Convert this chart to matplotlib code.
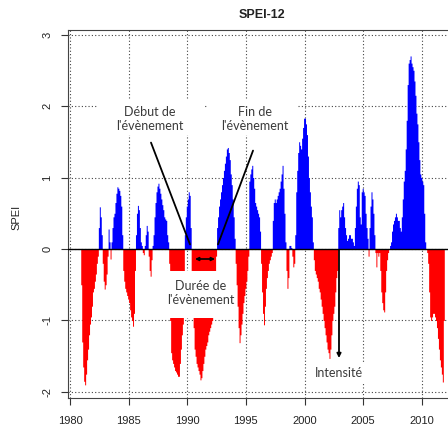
import numpy as np
import matplotlib
matplotlib.use("Agg")
import matplotlib.pyplot as plt
from matplotlib.patches import Rectangle

plt.rcParams['axes.unicode_minus'] = False

nan = np.nan
# Monthly SPEI-12 values (Jan..Dec)
spei_1980s = [
    [nan, nan, nan, nan, nan, nan, nan, nan, nan, nan, nan, -0.5],
    [-1.3, -1.65, -1.85, -1.9, -1.75, -1.55, -1.4, -1.2, -1.05, -0.95, -0.8, -0.6],
    [-0.55, -0.45, -0.35, -0.2, -0.1, 0.3, 0.59, 0.45, 0.2, -0.2, -0.45, -0.56],
    [-0.5, -0.35, -0.1, 0.28, 0.1, -0.14, 0.1, 0.3, 0.45, 0.5, 0.65, 0.78],
    [0.87, 0.85, 0.82, 0.75, 0.6, 0.2, -0.3, -0.45, -0.55, -0.6, -0.65, -0.7],
    [-0.75, -0.85, -0.95, -1.0, -1.08, -0.9, -0.3, 0.2, 0.5, 0.61, 0.55, 0.3],
    [0.1, 0.05, -0.05, -0.08, 0.05, 0.2, 0.33, 0.25, -0.1, -0.3, -0.38, -0.15],
    [0.05, 0.2, 0.45, 0.65, 0.8, 0.88, 0.92, 0.85, 0.78, 0.7, 0.62, 0.55],
    [0.45, 0.42, 0.4, 0.2, 0.1, -0.2, -1.0, -1.45, -1.55, -1.6, -1.65, -1.7],
    [-1.72, -1.75, -1.78, -1.78, -1.6, -1.4, -1.2, -1.05, -0.5, 0.2, 0.45, 0.6],
]
spei_1990s = [
    [0.7, 0.8, 0.75, 0.3, -0.3, -0.7, -1.1, -1.4, -1.5, -1.6, -1.65, -1.7],
    [-1.75, -1.83, -1.8, -1.7, -1.6, -1.5, -1.4, -1.35, -1.3, -1.2, -1.15, -1.1],
    [-1.05, -1.0, -0.95, -0.8, -0.4, -0.1, 0.3, 0.45, 0.6, 0.7, 0.8, 0.9],
    [1.0, 1.1, 1.2, 1.3, 1.4, 1.42, 1.35, 1.25, 1.05, 0.9, 0.7, 0.45],
    [0.15, -0.2, -0.5, -0.8, -1.1, -1.31, -1.2, -1.05, -0.9, -0.75, -0.65, -0.55],
    [-0.45, -0.3, -0.1, 0.95, 1.05, 1.12, 1.17, 1.0, 0.85, 0.65, 0.6, 0.55],
    [0.5, 0.45, 0.25, -0.2, -0.6, -0.9, -1.06, -0.8, -0.55, -0.4, -0.3, -0.2],
    [-0.15, -0.1, -0.05, 0.4, 0.65, 0.7, 0.65, 0.7, 0.75, 0.8, 0.85, 0.95],
    [1.05, 1.17, 0.85, 0.5, 0.1, -0.3, -0.55, -0.4, 0.05, 0.05, 0.02, -0.1],
    [-0.25, -0.2, 0.2, 0.8, 1.1, 1.35, 1.5, 1.45, 1.4, 1.55, 1.7, 1.83],
]
spei_2000s = [
    [1.83, 1.75, 1.6, 1.3, 1.0, 0.8, 0.6, 0.45, 0.1, -0.15, -0.3, -0.35],
    [-0.4, -0.45, -0.55, -0.6, -0.7, -0.8, -0.9, -1.0, -1.1, -1.2, -1.3, -1.4],
    [-1.45, -1.53, -1.4, -1.2, -1.0, -0.9, -0.8, -0.6, -0.4, -0.3, 0.3, 0.55],
    [0.45, 0.55, 0.6, 0.65, 0.45, 0.3, 0.2, 0.12, 0.15, 0.2, 0.2, 0.15],
    [0.15, 0.1, 0.05, 0.3, 0.6, 0.85, 0.95, 0.9, 0.45, 0.35, 0.8, 0.85],
    [0.8, 0.75, 0.5, 0.3, 0.15, -0.1, 0.3, 0.6, 0.8, 0.7, 0.5, 0.2],
    [-0.05, -0.25, -0.05, -0.1, -0.05, -0.3, -0.6, -0.75, -0.85, -0.88, -0.6, -0.3],
    [-0.15, -0.05, 0.0, 0.05, 0.1, 0.25, 0.35, 0.4, 0.45, 0.5, 0.45, 0.4],
    [0.4, 0.3, 0.25, 0.45, 0.7, 0.95, 1.1, 1.4, 1.8, 2.3, 2.6, 2.65],
    [2.7, 2.6, 2.55, 2.5, 2.35, 2.15, 1.9, 1.75, 1.5, 1.25, 1.05, 1.0],
]
spei_2010s = [
    [0.95, 0.9, 0.5, 0.1, 0.0, -0.05, -0.2, -0.6, -0.95, -1.0, -0.95, -0.9],
    [-0.9, -0.95, -1.0, -1.1, -1.25, -1.4, -1.55, -1.65, -1.75, -1.86, -1.0, nan],
]
start_year = 1980
x_ticks = [1980, 1985, 1990, 1995, 2000, 2005, 2010]
y_ticks = [-2, -1, 0, 1, 2, 3]

values = np.array(spei_1980s + spei_1990s + spei_2000s + spei_2010s, dtype=float).ravel()
t = start_year + np.arange(values.size) / 12.0
t_edge = np.append(t, t[-1] + 1 / 12.0)
v_edge = np.append(values, values[-1])
v_edge = np.nan_to_num(v_edge)

W, H = 448, 428
fig = plt.figure(figsize=(W / 100, H / 100), dpi=100)
ax = fig.add_axes([68 / W, (H - 398) / H, (457 - 68) / W, (398 - 30) / H])
ax.set_xlim(1979.83, 2013.0)
ax.set_ylim(-2.084, 3.063)

pos = np.where(v_edge > 0, v_edge, 0)
neg = np.where(v_edge < 0, v_edge, 0)
ax.fill_between(t_edge, 0, pos, step='post', color='#0000FF', linewidth=0, zorder=2)
ax.fill_between(t_edge, 0, neg, step='post', color='#FF0000', linewidth=0, zorder=2)

for xv in x_ticks:
    ax.axvline(xv, color='#444444', lw=0.8, ls=(0, (1, 2)), zorder=1)
for yv in y_ticks:
    ax.axhline(yv, color='#444444', lw=0.8, ls=(0, (1, 2)), zorder=1)
ax.axhline(0, color='black', lw=1.0, zorder=4)

ax.set_xticks(x_ticks)
ax.set_yticks(y_ticks)
ax.tick_params(axis='both', direction='out', length=5, width=0.8, color='#333333',
               labelsize=8, labelcolor='#222222')
ax.tick_params(axis='x', pad=8)
ax.tick_params(axis='y', pad=10)
for lbl in ax.get_yticklabels():
    lbl.set_rotation(90)
    lbl.set_va('center')
    lbl.set_ha('center')
for lbl in ax.get_xticklabels() + ax.get_yticklabels():
    lbl.set_family('Liberation Sans')
for s in ['left', 'bottom', 'top']:
    ax.spines[s].set_color('#444444')
    ax.spines[s].set_linewidth(0.8)
ax.spines['right'].set_visible(False)

fig.text(262 / W, 1 - 15 / H, 'SPEI-12', ha='center', va='center', fontsize=9,
         fontweight='bold', family='Liberation Sans', color='#222222')
fig.text(16 / W, 1 - 217 / H, 'SPEI', ha='center', va='center', rotation=90,
         fontsize=8, family='Liberation Sans', color='#222222')

def fpx(x, y):
    return (x, H - y)

# white boxes behind annotation texts
for (x0, y0, x1, y1) in [(98, 100, 203, 135), (208, 100, 298, 135),
                         (163, 271, 234, 318), (312, 363, 366, 384)]:
    r = Rectangle((x0 / W, 1 - y1 / H), (x1 - x0) / W, (y1 - y0) / H,
                  transform=fig.transFigure, facecolor='white', edgecolor='none', zorder=5)
    ax.add_patch(r)

tcol = '#3a3a3a'
afont = dict(family='Lato', fontsize=9, color=tcol, ha='center', va='center',
             linespacing=1.2, zorder=7)
ax.text(150 / W, 1 - 119 / H, "Début de\nl'évènement", transform=fig.transFigure, **afont)
ax.text(255 / W, 1 - 119 / H, "Fin de\nl'évènement", transform=fig.transFigure, **afont)
ax.text(201 / W, 1 - 293 / H, "Durée de\nl'évènement", transform=fig.transFigure, **afont)
ax.text(339 / W, 1 - 373 / H, "Intensité", transform=fig.transFigure, **afont)

ax.annotate('', xy=fpx(191, 247), xytext=fpx(150, 140), xycoords='figure pixels',
            textcoords='figure pixels',
            arrowprops=dict(arrowstyle='-', color='black', lw=1.3), zorder=8)
ax.annotate('', xy=fpx(217, 247), xytext=fpx(254, 148), xycoords='figure pixels',
            textcoords='figure pixels',
            arrowprops=dict(arrowstyle='-', color='black', lw=1.3), zorder=8)
ax.annotate('', xy=fpx(215, 259), xytext=fpx(195, 259), xycoords='figure pixels',
            textcoords='figure pixels',
            arrowprops=dict(arrowstyle='<|-|>', color='black', lw=1.2,
                            mutation_scale=5, shrinkA=0, shrinkB=0), zorder=8)
ax.annotate('', xy=fpx(339, 358), xytext=fpx(339, 250), xycoords='figure pixels',
            textcoords='figure pixels',
            arrowprops=dict(arrowstyle='-|>', color='black', lw=1.3,
                            mutation_scale=6, shrinkA=0, shrinkB=0), zorder=8)

fig.savefig('out.png', dpi=100)
